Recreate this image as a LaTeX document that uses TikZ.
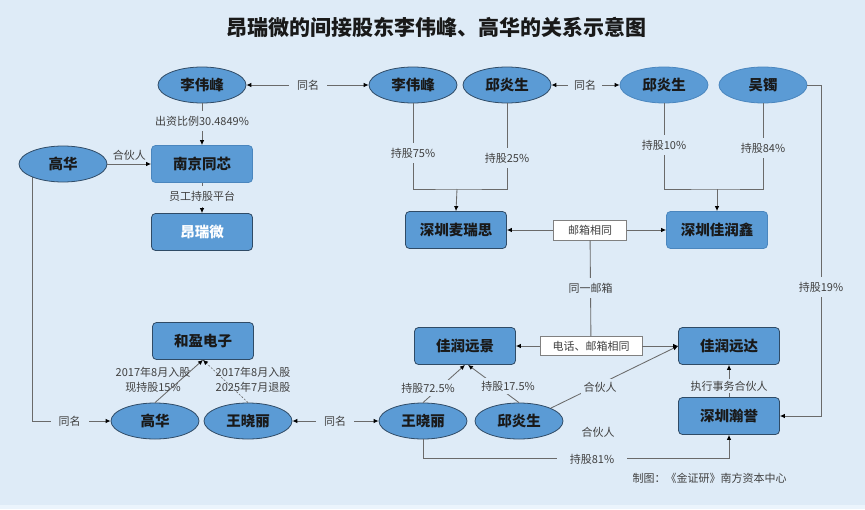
\documentclass[tikz,border=0pt]{standalone}
\usepackage{fontspec}
\setmainfont{Noto Sans CJK SC}
\usetikzlibrary{shapes.geometric,arrows.meta}
\pgfdeclarelayer{background}
\pgfsetlayers{background,main}
\definecolor{bg}{HTML}{DEEBF7}
\definecolor{bgl}{HTML}{EBF4FC}
\definecolor{nfill}{HTML}{5B9BD5}
\definecolor{nborder}{HTML}{2F4B66}
\definecolor{lborder}{HTML}{4A86BE}
\definecolor{linec}{HTML}{6A6A6A}
\definecolor{labc}{HTML}{404040}
\tikzset{
  nodefont/.style={font=\fontsize{14.5}{16}\selectfont\bfseries, text=black!90},
  ell/.style={ellipse, draw=nborder, line width=0.8pt, fill=nfill, minimum width=88pt, minimum height=36pt, inner sep=0pt, nodefont},
  rbox/.style={rectangle, rounded corners=4pt, draw=nborder, line width=0.8pt, fill=nfill, minimum width=101pt, minimum height=37pt, inner sep=0pt, nodefont},
  lbl/.style={font=\fontsize{11}{13}\selectfont, text=labc, fill=bg, inner xsep=3pt, inner ysep=3pt},
  vlbl/.style={lbl, inner ysep=5pt},
  hlbl/.style={lbl, inner xsep=8pt},
  nlbl/.style={font=\fontsize{11}{15}\selectfont, text=labc, inner sep=1pt},
  wbox/.style={rectangle, draw=gray, line width=0.7pt, fill=white, font=\fontsize{11}{13}\selectfont, text=labc, inner sep=0pt},
  conn/.style={draw=linec, line width=0.85pt},
  arr/.style={conn, -{Latex[length=5pt,width=4.5pt,color=black]}},
}
\begin{document}
\begin{tikzpicture}[x=1pt,y=-1pt]
\useasboundingbox (0,0) rectangle (865,509);
\begin{pgfonlayer}{background}
\fill[bg] (0,0) rectangle (865,505);
\fill[bgl] (0,505) rectangle (865,509);
\end{pgfonlayer}

% title and credit
\node[font=\fontsize{21}{24}\selectfont\bfseries, text=black!90] (title) at (436,27) {昂瑞微的间接股东李伟峰、高华的关系示意图};
\node[anchor=west, font=\fontsize{11}{13}\selectfont, text=labc] (credit) at (629,478) {制图：《金证研》南方资本中心};

% nodes
\node[ell] (lwfL) at (202,85) {李伟峰};
\node[ell] (ghL) at (63,164) {高华};
\node[rbox, draw=lborder] (njtx) at (202,164) {南京同芯};
\node[rbox, text=white] (arw) at (202,232) {昂瑞微};
\node[ell] (lwfR) at (413,85) {李伟峰};
\node[ell] (qysM) at (507,85) {邱炎生};
\node[ell, draw=lborder] (qysR) at (664,85) {邱炎生};
\node[ell, draw=lborder] (wz) at (763,85) {吴镯};
\node[rbox] (mrs) at (456,230) {深圳麦瑞思};
\node[rbox, draw=lborder] (jrx) at (717,230) {深圳佳润鑫};
\node[wbox, minimum width=73pt, minimum height=20pt] (yx) at (590,230) {邮箱相同};
\node[rbox] (hyez) at (203,341) {和盈电子};
\node[rbox] (jryj) at (465,346) {佳润远景};
\node[wbox, minimum width=102pt, minimum height=19pt] (dh) at (591,346) {电话、邮箱相同};
\node[rbox] (jryd) at (729,346) {佳润远达};
\node[rbox] (hyu) at (729,416) {深圳瀚誉};
\node[ell] (ghB) at (155,421) {高华};
\node[ell] (wxlB) at (248,421) {王晓丽};
\node[ell] (wxlR) at (423,421) {王晓丽};
\node[ell] (qysB) at (519,421) {邱炎生};

% top same-name links
\node[hlbl] (tm1) at (308,85) {同名};
\draw[arr] (tm1) -- (lwfL);
\draw[arr] (tm1) -- (lwfR);
\node[lbl, inner xsep=6pt] (tm2) at (585,85) {同名};
\draw[arr] (tm2) -- (qysM);
\draw[arr] (tm2) -- (qysR);

% left cluster
\draw[arr] (lwfL) -- node[vlbl, pos=0.42]{出资比例30.4849\%} (njtx);
\draw[arr] (ghL) -- node[nlbl, above=2pt, pos=0.5]{合伙人} (njtx);
\draw[arr] (njtx) -- node[vlbl, pos=0.45]{员工持股平台} (arw);

\begin{pgfonlayer}{background}
\draw[arr] ([xshift=-31pt]ghL.center) |- node[hlbl, pos=0.74]{同名} (ghB);
\end{pgfonlayer}

\node[hlbl] (tm4) at (335,421) {同名};
\draw[arr] (tm4) -- (wxlB);
\draw[arr] (tm4) -- (wxlR);

\draw[arr] (ghB.north) -- (hyez.south);
\draw[arr, line width=0.6pt, dash pattern=on 2pt off 1.5pt] (wxlB.north) -- (hyez.south);
\node[nlbl, align=center] (l15) at (153,380) {2017年8月入股\\现持股15\%};
\node[nlbl, align=center] (l25) at (253,380) {2017年8月入股\\2025年7月退股};

% 深圳麦瑞思 tree
\coordinate (j1) at (457,189);
\draw[conn] (lwfR.south) |- (j1) -| (qysM.south);
\draw[arr] (j1) -- (mrs.north);
\node[vlbl] (l75) at (413,153) {持股75\%};
\node[vlbl] (l25b) at (507,158) {持股25\%};

% 深圳佳润鑫 tree
\coordinate (j2) at (717,189);
\draw[conn] (qysR.south) |- (j2) -| (wz.south);
\draw[arr] (j2) -- (jrx.north);
\node[vlbl] (l10) at (664,145) {持股10\%};
\node[vlbl] (l84) at (763,148) {持股84\%};

% 吴镯 -> 深圳瀚誉
\draw[arr] (wz.east) -- ++(14,0) |- (hyu.east);
\node[vlbl] (l19) at (821,287) {持股19\%};

% mailbox links
\draw[arr] (yx) -- (mrs);
\draw[arr] (yx) -- (jrx);
\draw[conn] (yx) -- node[vlbl]{同一邮箱} (dh);
\draw[arr] (dh) -- (jryj);
\draw[arr] (dh) -- (jryd);

% bottom right
\draw[arr] (wxlR.north) -- (jryj.south);
\draw[arr] (qysB.north) -- ([xshift=3pt]jryj.south);
\node[lbl] (l725) at (428,388) {持股72.5\%};
\node[lbl] (l175) at (508,386) {持股17.5\%};

\draw[arr] (qysB.22) -- (jryd.west);
\node[lbl] (lhh) at (600,387) {合伙人};
\node[nlbl] (lhh2) at (598,432) {合伙人};

\draw[arr] (hyu) -- (jryd);
\node[lbl, inner ysep=2pt] (lzx) at (729,386) {执行事务合伙人};

\draw[arr] (wxlR.south) -- ++(0,19) -| (hyu.south);
\node[lbl, inner xsep=13pt] (l81) at (592,459) {持股81\%};
\end{tikzpicture}
\end{document}
